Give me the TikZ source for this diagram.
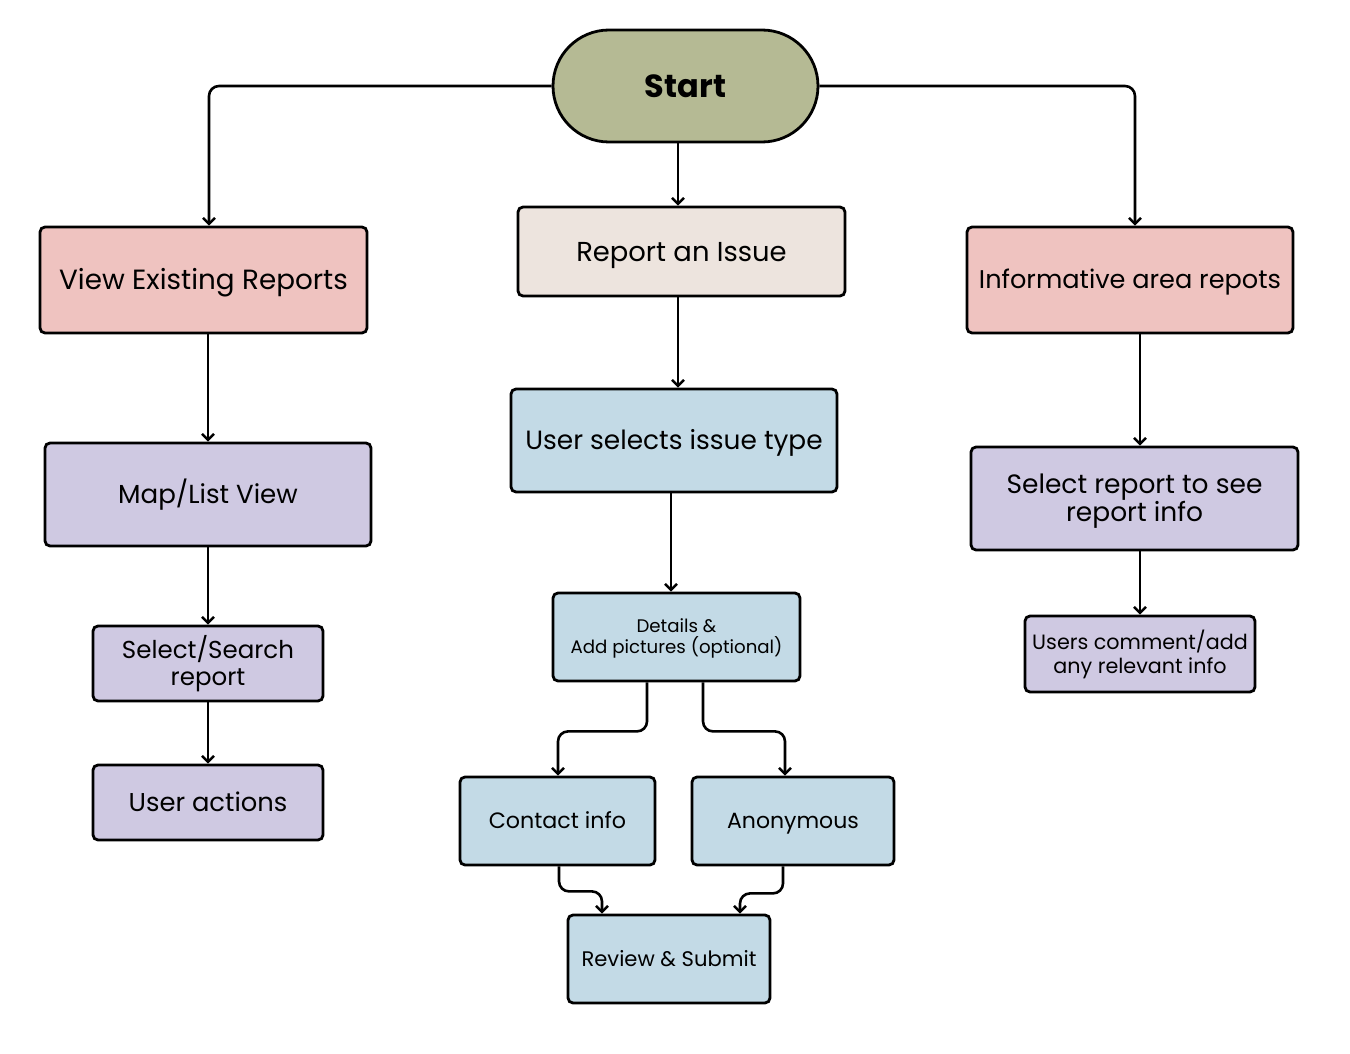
\documentclass[tikz,border=0pt]{standalone}
\usepackage{fontspec}
\setmainfont{Poppins}
\usetikzlibrary{arrows.meta}
\definecolor{cstart}{HTML}{B5BA94}
\definecolor{crep}{HTML}{EDE4DE}
\definecolor{cpink}{HTML}{EFC3C0}
\definecolor{cpurp}{HTML}{CFC9E2}
\definecolor{cblue}{HTML}{C3DAE6}
\tikzset{
  box/.style={draw=black, line width=2.8pt, rounded corners=5pt, align=center, inner sep=0pt, text depth=0pt},
  arr/.style={draw=black, line width=2.6pt, rounded corners=10pt, -{Straight Barb[length=6pt,width=12pt,line width=2.4pt]}},
  fs/.style n args={3}{font=\fontsize{#1}{#2}\selectfont, text height=#3},
}
\begin{document}
\begin{tikzpicture}[x=1pt,y=-1pt]
\useasboundingbox[fill=white] (0,0) rectangle (1350,1054);
% nodes
\node[box, fill=cstart, rounded corners=56pt, minimum width=265, minimum height=112, font=\fontsize{32}{34}\selectfont\bfseries, text height=22.4pt] (start) at (685.5,86) {Start};
\node[box, fill=crep, minimum width=327, minimum height=89, fs={27.4}{30}{19.2pt}] (rep) at (681.5,251.5) {Report an Issue};
\node[box, fill=cpink, minimum width=327, minimum height=106, fs={27.8}{30}{19.5pt}] (view) at (203.5,280) {View Existing Reports};
\node[box, fill=cpink, minimum width=326, minimum height=106, fs={25.6}{28}{17.9pt}] (info) at (1130,280) {Informative area repots};
\node[box, fill=cpurp, minimum width=326, minimum height=103, fs={26.1}{28}{18.3pt}] (map) at (208,494.5) {Map/List View};
\node[box, fill=cblue, minimum width=326, minimum height=103, fs={26.4}{28}{18.5pt}] (sel) at (674,440.5) {User selects issue type};
\node[box, fill=cpurp, minimum width=327, minimum height=103, fs={26.5}{28}{46.6pt}] (srep) at (1134.5,498.5) {Select report to see\\report info};
\node[box, fill=cpurp, minimum width=230, minimum height=75, fs={24.5}{27}{44.2pt}] (search) at (208,663.5) {Select/Search\\report};
\node[box, fill=cpurp, minimum width=230, minimum height=75, fs={25.8}{28}{18.1pt}] (act) at (208,802.5) {User actions};
\node[box, fill=cblue, minimum width=247, minimum height=88, fs={18.2}{21}{33.7pt}] (det) at (676.5,637) {Details \&\\Add pictures (optional)};
\node[box, fill=cpurp, minimum width=230, minimum height=76, fs={20.7}{24}{38.5pt}] (com) at (1140,654) {Users comment/add\\any relevant info};
\node[box, fill=cblue, minimum width=195, minimum height=88, fs={22.2}{24}{15.5pt}] (con) at (557.5,821) {Contact info};
\node[box, fill=cblue, minimum width=202, minimum height=88, fs={22}{24}{15.4pt}] (anon) at (793,821) {Anonymous};
\node[box, fill=cblue, minimum width=202, minimum height=88, fs={21.1}{24}{14.8pt}] (rev) at (669,959) {Review \& Submit};
% connectors
\draw[arr] (start.west) -| ([xshift=5.5]view.north);
\draw[arr] (start.east) -| ([xshift=5]info.north);
\draw[arr] ([xshift=-7.5]start.south) -- ([xshift=-3.5]rep.north);
\draw[arr] ([xshift=-3.5]rep.south) -- ([xshift=4]sel.north);
\draw[arr] ([xshift=-3]sel.south) -- ([xshift=-5.5]det.north);
\draw[arr] ([xshift=4.5]view.south) -- (map.north);
\draw[arr] (map.south) -- (search.north);
\draw[arr] (search.south) -- (act.north);
\draw[arr] ([xshift=10]info.south) -- ([xshift=5.5]srep.north);
\draw[arr] ([xshift=5.5]srep.south) -- (com.north);
\draw[arr] ([xshift=-29.5]det.south) -- ++(0,49) -| ([xshift=0.5]con.north);
\draw[arr] ([xshift=26.5]det.south) -- ++(0,49) -| ([xshift=-8]anon.north);
\draw[arr] ([xshift=1.5]con.south) -- ++(0,25) -| ([xshift=-67]rev.north);
\draw[arr] ([xshift=-10]anon.south) -- ++(0,27) -| ([xshift=71]rev.north);
\end{tikzpicture}
\end{document}
